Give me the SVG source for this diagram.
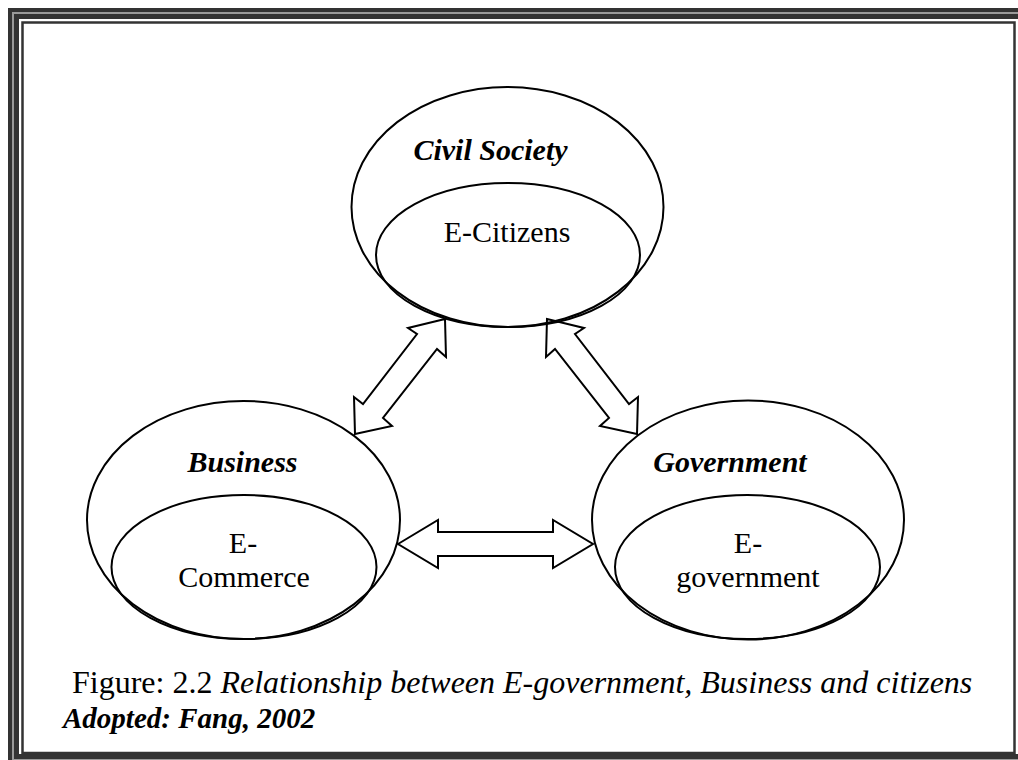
<svg xmlns="http://www.w3.org/2000/svg" width="1018" height="760" viewBox="0 0 1018 760">
  <style>
    .frame-dark { fill: none; stroke: #333333; }
    .frame-light { fill: none; stroke: #9a9a9a; }
    .shape { fill: none; stroke: #000000; stroke-width: 2; }
    .block { fill: #ffffff; stroke: #000000; stroke-width: 2; stroke-linejoin: miter; }
    text { font-family: "Liberation Serif", "DejaVu Serif", serif; fill: #000000; }
    .title { font-size: 30px; font-weight: bold; font-style: italic; text-anchor: middle; }
    .label { font-size: 30px; text-anchor: middle; }
    .caption { font-size: 32px; }
    .source { font-size: 29px; font-weight: bold; font-style: italic; }
  </style>

  <rect x="0" y="0" width="1018" height="760" fill="#ffffff"/>

  <!-- page border: thick band with a light rule, then a thin inner rule -->
  <g id="border">
    <rect class="frame-dark" x="10" y="10" width="1018" height="752" stroke-width="4"/>
    <rect class="frame-light" x="13" y="13" width="1012" height="746" stroke-width="2"/>
    <rect class="frame-dark" x="16.5" y="16.5" width="1004" height="740" stroke-width="5"/>
    <rect class="frame-dark" x="22.5" y="22.5" width="992" height="730.5" stroke-width="2.5"/>
  </g>

  <!-- double-headed block arrows -->
  <g id="connectors">
    <polygon class="block" points="445,319 408,328 417,334 363,404 354,397 355,434 392,426 383,418 437,349 446,357"/>
    <polygon class="block" points="547,319 584,328 575,334 629,404 638,397 637,434 600,426 609,418 555,349 546,357"/>
    <polygon class="block" points="398,544 438,520 438,532 553,532 553,520 593,544 553,568 553,556 438,556 438,568"/>
  </g>

  <g id="civil-society">
    <ellipse class="shape" cx="507.5" cy="207" rx="156" ry="120"/>
    <ellipse class="shape" cx="508" cy="255" rx="132" ry="72"/>
    <text class="title" x="490.5" y="160" font-family="Liberation Serif, DejaVu Serif, serif">Civil Society</text>
    <text class="label" x="507" y="242" font-family="Liberation Serif, DejaVu Serif, serif">E-Citizens</text>
  </g>

  <g id="business">
    <ellipse class="shape" cx="243.5" cy="520" rx="156.5" ry="119"/>
    <ellipse class="shape" cx="244" cy="567" rx="132.5" ry="72"/>
    <text class="title" x="242.5" y="472" font-family="Liberation Serif, DejaVu Serif, serif">Business</text>
    <text class="label" x="243" y="553" font-family="Liberation Serif, DejaVu Serif, serif">E-</text>
    <text class="label" x="244" y="587" font-family="Liberation Serif, DejaVu Serif, serif">Commerce</text>
  </g>

  <g id="government">
    <ellipse class="shape" cx="748" cy="520" rx="156" ry="119.5"/>
    <ellipse class="shape" cx="747.5" cy="567" rx="132.5" ry="72"/>
    <text class="title" x="730" y="472" font-family="Liberation Serif, DejaVu Serif, serif">Government</text>
    <text class="label" x="748" y="553" font-family="Liberation Serif, DejaVu Serif, serif">E-</text>
    <text class="label" x="748" y="587" font-family="Liberation Serif, DejaVu Serif, serif">government</text>
  </g>

  <g id="caption">
    <text class="caption" x="72" y="693" font-family="Liberation Serif, DejaVu Serif, serif">Figure: 2.2 <tspan font-style="italic">Relationship between E-government, Business and citizens</tspan></text>
    <text class="source" x="63" y="728" font-family="Liberation Serif, DejaVu Serif, serif">Adopted: Fang, 2002</text>
  </g>
</svg>
